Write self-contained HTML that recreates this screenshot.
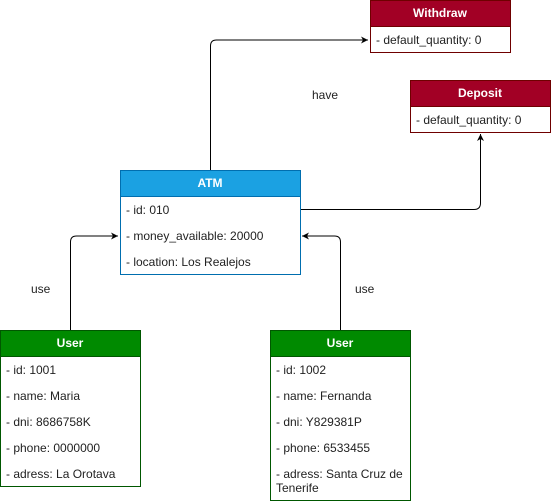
<!DOCTYPE html>
<html><head><meta charset="utf-8"><style>
html,body{margin:0;padding:0;background:#fff;width:551px;height:504px;overflow:hidden}
svg text{font-family:"Liberation Sans",Arial,sans-serif;font-size:12px;fill:#222}
.h{font-weight:bold;fill:#fff;text-anchor:middle}
</style></head><body>
<svg width="551" height="504" viewBox="0 0 551 504" xmlns="http://www.w3.org/2000/svg">
<defs><marker id="a" markerWidth="8" markerHeight="8" refX="7" refY="4" orient="auto" markerUnits="userSpaceOnUse"><path d="M0,0.5 L7,4 L0,7.5 L2,4 Z" fill="#000"/></marker></defs>
<g fill="none" stroke="#000" stroke-width="1">
<path d="M210.5,170 V46 Q210.5,40 216.5,40 H368" marker-end="url(#a)"/>
<path d="M300,209.5 H474 Q480.5,209.5 480.5,203 V134" marker-end="url(#a)"/>
<path d="M70.5,330 V242 Q70.5,236 76.5,236 H118" marker-end="url(#a)"/>
<path d="M340.5,330 V242 Q340.5,236 334.5,236 H302" marker-end="url(#a)"/>
</g>
<!-- Withdraw -->
<rect x="370.5" y="0.5" width="140" height="52" fill="#fff" stroke="#6f0000"/>
<rect x="370.5" y="0.5" width="140" height="26" fill="#a20025" stroke="#6f0000"/>
<text class="h" x="440" y="17">Withdraw</text>
<text x="376" y="44">- default_quantity: 0</text>
<!-- Deposit -->
<rect x="410.5" y="80.5" width="140" height="52" fill="#fff" stroke="#6f0000"/>
<rect x="410.5" y="80.5" width="140" height="26" fill="#a20025" stroke="#6f0000"/>
<text class="h" x="480" y="97">Deposit</text>
<text x="416" y="124">- default_quantity: 0</text>
<!-- ATM -->
<rect x="120.5" y="170.5" width="180" height="104" fill="#fff" stroke="#006eaf"/>
<rect x="120.5" y="170.5" width="180" height="26" fill="#1ba1e2" stroke="#006eaf"/>
<text class="h" x="210" y="187">ATM</text>
<text x="126" y="214">- id: 010</text>
<text x="126" y="240">- money_available: 20000</text>
<text x="126" y="266">- location: Los Realejos</text>
<!-- User1 -->
<rect x="0.5" y="330.5" width="140" height="156" fill="#fff" stroke="#005700"/>
<rect x="0.5" y="330.5" width="140" height="26" fill="#008a00" stroke="#005700"/>
<text class="h" x="70" y="347">User</text>
<text x="6" y="374">- id: 1001</text>
<text x="6" y="400">- name: Maria</text>
<text x="6" y="426">- dni: 8686758K</text>
<text x="6" y="452">- phone: 0000000</text>
<text x="6" y="478">- adress: La Orotava</text>
<!-- User2 -->
<rect x="270.5" y="330.5" width="140" height="170" fill="#fff" stroke="#005700"/>
<rect x="270.5" y="330.5" width="140" height="26" fill="#008a00" stroke="#005700"/>
<text class="h" x="340" y="347">User</text>
<text x="276" y="374">- id: 1002</text>
<text x="276" y="400">- name: Fernanda</text>
<text x="276" y="426">- dni: Y829381P</text>
<text x="276" y="452">- phone: 6533455</text>
<text x="276" y="478">- adress: Santa Cruz de</text>
<text x="276" y="492">Tenerife</text>
<!-- labels -->
<text x="312" y="99">have</text>
<text x="31" y="293">use</text>
<text x="355" y="293">use</text>
</svg>
</body></html>
